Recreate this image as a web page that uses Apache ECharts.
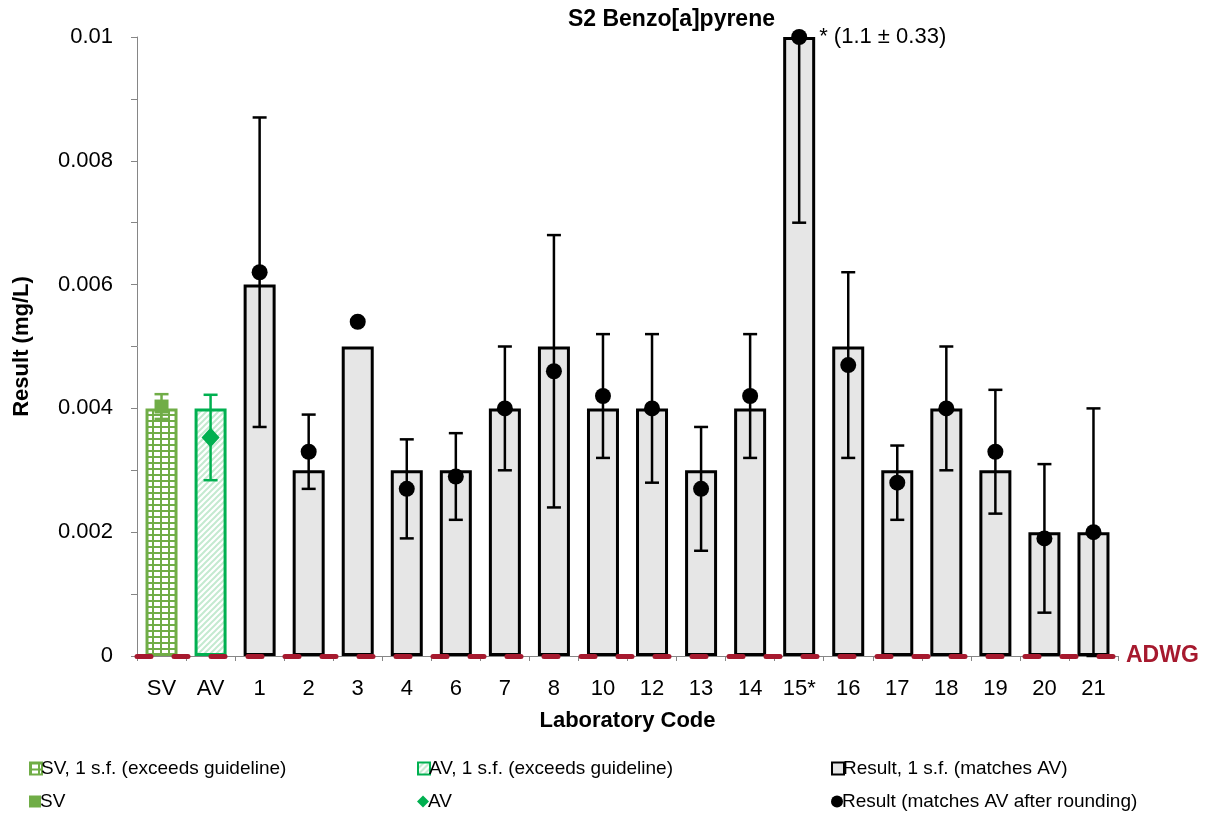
<!DOCTYPE html>
<html>
<head>
<meta charset="utf-8">
<script src="https://cdn.jsdelivr.net/npm/echarts@6/dist/echarts.min.js"></script>
<style>
  html, body { margin: 0; padding: 0; background: #fff; }
  #chart { width: 1207px; height: 814px; }
</style>
</head>
<body>
<div id="chart"></div>
<script>
// ---- data ----
const categories = ['SV', 'AV', '1', '2', '3', '4', '6', '7', '8', '10', '12', '13', '14', '15*', '16', '17', '18', '19', '20', '21'];

// spiked value and assigned value (mg/L) with their uncertainties
const svValue = 0.00403, svUnc = 0.0002, svRounded = 0.004;
const avValue = 0.00353, avUnc = 0.00069, avRounded = 0.004;

// laboratory results, in category order after SV and AV
const resultValues  = [0.0062, 0.0033, 0.0054, 0.0027, 0.0029, 0.0040, 0.0046, 0.0042, 0.0040, 0.0027, 0.0042, 1.1, 0.0047, 0.0028, 0.0040, 0.0033, 0.0019, 0.0020];
const resultRounded = [0.006, 0.003, 0.005, 0.003, 0.003, 0.004, 0.005, 0.004, 0.004, 0.003, 0.004, 1, 0.005, 0.003, 0.004, 0.003, 0.002, 0.002];
// reported measurement uncertainty bounds (null = none reported)
const resultErrLow  = [0.0037, 0.0027, null, 0.0019, 0.0022, 0.0030, 0.0024, 0.0032, 0.0028, 0.0017, 0.0032, 0.0070, 0.0032, 0.0022, 0.0030, 0.0023, 0.0007, 0.0000];
const resultErrHigh = [0.0087, 0.0039, null, 0.0035, 0.0036, 0.0050, 0.0068, 0.0052, 0.0052, 0.0037, 0.0052, 0.0100, 0.0062, 0.0034, 0.0050, 0.0043, 0.0031, 0.0040];
// off-scale result note
const offScaleCode = '15*', offScaleValue = 1.1, offScaleUnc = 0.33;

const adwg = 0.00001;              // guideline value (mg/L)
const yTicks = [0, 0.002, 0.004, 0.006, 0.008, 0.01];
const yMin = yTicks[0], yMax = yTicks[yTicks.length - 1];

// ---- fill patterns ----
function gridPattern() {
  const c = document.createElement('canvas');
  c.width = 8; c.height = 6;
  const g = c.getContext('2d');
  g.fillStyle = '#ffffff'; g.fillRect(0, 0, 8, 6);
  g.fillStyle = '#70AD47';
  g.fillRect(0, 0, 8, 2);
  g.fillRect(0, 0, 2, 6);
  return c;
}
function stripePattern() {
  const c = document.createElement('canvas');
  c.width = 6; c.height = 6;
  const g = c.getContext('2d');
  g.fillStyle = '#ffffff'; g.fillRect(0, 0, 6, 6);
  g.strokeStyle = '#c4ead0'; g.lineWidth = 2;
  g.beginPath();
  g.moveTo(-1, 7); g.lineTo(7, -1);
  g.moveTo(-4, 4); g.lineTo(4, -4);
  g.moveTo(2, 10); g.lineTo(10, 2);
  g.stroke();
  return c;
}
const svFill = { image: gridPattern(), repeat: 'repeat' };
const avFill = { image: stripePattern(), repeat: 'repeat' };

const SV_GREEN = '#70AD47';
const AV_GREEN = '#00B050';
const ADWG_RED = '#A6192E';
const FONT = '"Liberation Sans", Arial, sans-serif';

const nCat = categories.length;
const clampY = v => Math.min(Math.max(v, yMin), yMax);
const blanks = n => Array(n).fill('-');

const svBarData = [svRounded].concat(blanks(nCat - 1));
const avBarData = ['-', avRounded].concat(blanks(nCat - 2));
const resBarData = ['-', '-'].concat(resultRounded.map(clampY));

// error bars: [categoryIndex, low, high]
const errData = [[0, svValue - svUnc, svValue + svUnc], [1, avValue - avUnc, avValue + avUnc]];
resultErrLow.forEach((lo, i) => {
  if (lo !== null) errData.push([i + 2, lo, resultErrHigh[i]]);
});

const resPoints = resultValues.map((v, i) => ({
  value: [i + 2, clampY(v)],
  label: categories[i + 2] === offScaleCode ? {
    show: true, position: 'right', distance: 12,
    formatter: '* (' + offScaleValue + ' \u00b1 ' + offScaleUnc + ')',
    fontSize: 22, color: '#000', fontFamily: FONT
  } : { show: false }
}));

function renderErr(params, api) {
  const idx = api.value(0);
  const lo = api.value(1), hi = api.value(2);
  const top = api.coord([idx, clampY(hi)]);
  const bot = api.coord([idx, clampY(lo)]);
  const color = idx === 0 ? SV_GREEN : (idx === 1 ? AV_GREEN : '#000');
  const cap = 7;
  const style = { stroke: color, lineWidth: 2.5 };
  return {
    type: 'group',
    children: [
      { type: 'line', shape: { x1: top[0], y1: top[1], x2: bot[0], y2: bot[1] }, style },
      { type: 'line', shape: { x1: top[0] - cap, y1: top[1], x2: top[0] + cap, y2: top[1] }, style },
      { type: 'line', shape: { x1: bot[0] - cap, y1: bot[1], x2: bot[0] + cap, y2: bot[1] }, style }
    ]
  };
}

const legendText = { fontSize: 19, color: '#000', fontFamily: FONT, padding: [0, 0, 0, -6] };
function legendAt(left, top, item) {
  return {
    left, top, itemWidth: 12, itemHeight: 12, itemGap: 0,
    selectedMode: false, textStyle: legendText, data: [item]
  };
}

const option = {
  animation: false,
  backgroundColor: '#fff',
  textStyle: { fontFamily: FONT },
  graphic: [{
    type: 'text', right: 1207 - 775, top: 8,
    style: { text: 'S2 Benzo[a]pyrene', font: 'bold 23px ' + FONT, fill: '#000' }
  }],
  legend: [
    legendAt(24, 754, { name: 'SV, 1 s.f. (exceeds guideline)', icon: 'rect', itemStyle: { color: svFill, borderColor: SV_GREEN, borderWidth: 2 } }),
    legendAt(412, 754, { name: 'AV, 1 s.f. (exceeds guideline)', icon: 'rect', itemStyle: { color: avFill, borderColor: AV_GREEN, borderWidth: 2 } }),
    legendAt(826, 754, { name: 'Result, 1 s.f. (matches AV)', icon: 'rect', itemStyle: { color: '#E6E6E6', borderColor: '#000', borderWidth: 2 } }),
    legendAt(24, 787, { name: 'SV', icon: 'rect', itemStyle: { color: SV_GREEN } }),
    legendAt(412, 787, { name: 'AV', icon: 'diamond', itemStyle: { color: AV_GREEN } }),
    legendAt(826, 787, { name: 'Result (matches AV after rounding)', icon: 'circle', itemStyle: { color: '#000' } })
  ],
  grid: { left: 137, right: 89, top: 37, bottom: 158 },
  xAxis: {
    type: 'category',
    data: categories,
    axisLine: { lineStyle: { color: '#868686', width: 1 } },
    axisTick: { show: true, length: 5, lineStyle: { color: '#868686' } },
    axisLabel: { fontSize: 22, color: '#000', margin: 22, fontFamily: FONT },
    name: 'Laboratory Code',
    nameLocation: 'middle',
    nameGap: 54,
    nameTextStyle: { fontSize: 22, fontWeight: 'bold', color: '#000', fontFamily: FONT }
  },
  yAxis: {
    type: 'value',
    min: yMin, max: yMax, interval: yTicks[1] - yTicks[0],
    axisLine: { show: true, lineStyle: { color: '#868686', width: 1 } },
    axisTick: { show: true, length: 6, lineStyle: { color: '#868686' } },
    minorTick: { show: true, splitNumber: 2, length: 6, lineStyle: { color: '#868686' } },
    splitLine: { show: false },
    axisLabel: {
      fontSize: 22, color: '#000', margin: 24, fontFamily: FONT,
      formatter: v => String(+v.toFixed(4))
    },
    name: 'Result (mg/L)',
    nameLocation: 'middle',
    nameGap: 104,
    nameTextStyle: { fontSize: 22, fontWeight: 'bold', color: '#000', fontFamily: FONT }
  },
  series: [
    {
      name: 'SV, 1 s.f. (exceeds guideline)', type: 'bar', data: svBarData,
      barWidth: 32, barGap: '-100%', z: 2,
      itemStyle: { color: svFill, borderColor: SV_GREEN, borderWidth: 3 }
    },
    {
      name: 'AV, 1 s.f. (exceeds guideline)', type: 'bar', data: avBarData,
      barWidth: 32, barGap: '-100%', z: 2,
      itemStyle: { color: avFill, borderColor: AV_GREEN, borderWidth: 3 }
    },
    {
      name: 'Result, 1 s.f. (matches AV)', type: 'bar', data: resBarData,
      barWidth: 32, barGap: '-100%', z: 2,
      itemStyle: { color: '#E6E6E6', borderColor: '#000', borderWidth: 3 }
    },
    {
      name: 'uncertainty', type: 'custom', renderItem: renderErr, data: errData,
      z: 3, silent: true
    },
    {
      name: 'SV', type: 'scatter', data: [[0, svValue]], symbol: 'rect', symbolSize: 14, z: 4,
      itemStyle: { color: SV_GREEN, opacity: 1 }
    },
    {
      name: 'AV', type: 'scatter', data: [[1, avValue]], symbol: 'diamond', symbolSize: [18, 20], z: 4,
      itemStyle: { color: AV_GREEN, opacity: 1 }
    },
    {
      name: 'Result (matches AV after rounding)', type: 'scatter', data: resPoints,
      symbol: 'circle', symbolSize: 16, z: 4,
      itemStyle: { color: '#000', opacity: 1 }
    },
    {
      name: 'ADWG', type: 'line', data: [], z: 6,
      markLine: {
        silent: true, symbol: 'none',
        lineStyle: { color: ADWG_RED, width: 5, type: [14, 23], cap: 'round' },
        label: {
          show: true, position: 'end', formatter: 'ADWG', distance: 8,
          color: ADWG_RED, fontSize: 23, fontWeight: 'bold', fontFamily: FONT
        },
        data: [{ yAxis: adwg }]
      }
    }
  ]
};

const chart = echarts.init(document.getElementById('chart'), null, { renderer: 'canvas' });
chart.setOption(option);
</script>
</body>
</html>
